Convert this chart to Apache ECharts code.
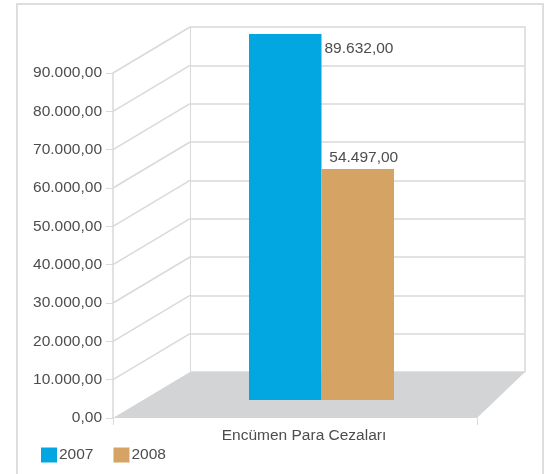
<!DOCTYPE html>
<html>
<head>
<meta charset="utf-8">
<script src="https://cdn.jsdelivr.net/npm/echarts@6/dist/echarts.min.js"></script>
<style>
html,body{margin:0;padding:0;background:#fff;}
#chart{width:548px;height:474px;}
</style>
</head>
<body>
<div id="chart"></div>
<script>
// ---- data ----
const categories = ['Encümen Para Cezaları'];
const seriesNames = ['2007', '2008'];
const values2007 = [89632];
const values2008 = [54497];
const yTicks = [0, 10000, 20000, 30000, 40000, 50000, 60000, 70000, 80000, 90000];

// ---- styles / layout ----
const FONT = 'Liberation Sans';
const TEXT = '#4d4d4d';
const LINE = '#d9d9d9';
const COLORS = ['#02a7e1', '#d5a465'];
const gridBack  = {left: 190, top: 27, width: 335, height: 345};
const gridFront = {left: 113, top: 73, width: 364, height: 345};
const gridBars  = {left: 249, top: 32.6, width: 145, height: 345.8};
const BAR_DEPTH = 21.6;

function fmt(v) {
  const neg = v < 0; v = Math.abs(v);
  const parts = v.toFixed(2).split('.');
  const int = parts[0].replace(/\B(?=(\d{3})+(?!\d))/g, '.');
  return (neg ? '-' : '') + int + ',' + parts[1];
}

const chart = echarts.init(document.getElementById('chart'), null, {renderer: 'canvas'});
const yMax = yTicks[yTicks.length - 1];
const step = yTicks[1] - yTicks[0];

function barRender(idx) {
  return function (params, api) {
    const cs = params.coordSys;
    const w = api.size([1, 0])[0] / 2;
    const top = api.coord([api.value(0), api.value(1)]);
    const x0 = cs.x + idx * w;
    const bottom = cs.y + cs.height + BAR_DEPTH;
    const label = fmt(api.value(1));
    const text = idx === 0
      ? {x: x0 + w + 3, y: top[1] + 15, align: 'left'}
      : {x: x0 + w / 2 + 6, y: top[1] - 11, align: 'center'};
    return {
      type: 'group',
      children: [
        {type: 'rect', shape: {x: x0, y: top[1], width: w, height: bottom - top[1]},
         style: {fill: COLORS[idx]}},
        {type: 'text', z2: 10, style: {x: text.x, y: text.y, text: label, align: text.align,
          verticalAlign: 'middle', fill: TEXT, font: '15.5px "' + FONT + '"'}}
      ]
    };
  };
}

const option = {
  animation: false,
  textStyle: {fontFamily: FONT},
  grid: [
    Object.assign({containLabel: false}, gridBack),
    Object.assign({containLabel: false}, gridFront),
    Object.assign({containLabel: false}, gridBars)
  ],
  xAxis: [
    {type: 'category', gridIndex: 0, data: categories, show: false},
    {type: 'category', gridIndex: 1, data: categories,
     axisLine: {show: false},
     axisTick: {show: true, length: 7, lineStyle: {color: LINE}},
     axisLabel: {color: TEXT, fontSize: 15.5, fontFamily: FONT, margin: 10, padding: [0, 0, 0, 18]}},
    {type: 'category', gridIndex: 2, data: categories, show: false}
  ],
  yAxis: [
    {type: 'value', gridIndex: 0, min: 0, max: yMax, interval: step,
     axisLine: {show: true, lineStyle: {color: LINE}}, axisTick: {show: false}, axisLabel: {show: false},
     splitLine: {show: true, lineStyle: {color: LINE, width: 1.5}}},
    {type: 'value', gridIndex: 0, position: 'right', min: 0, max: yMax, interval: step,
     axisLine: {show: true, lineStyle: {color: LINE, width: 1.5}}, axisTick: {show: false},
     axisLabel: {show: false}, splitLine: {show: false}},
    {type: 'value', gridIndex: 1, min: 0, max: yMax, interval: step,
     axisLine: {show: true, lineStyle: {color: LINE, width: 1.5}},
     axisTick: {show: true, length: 7, lineStyle: {color: LINE}},
     axisLabel: {color: TEXT, fontSize: 15.5, fontFamily: FONT, margin: 11, formatter: fmt},
     splitLine: {show: false}},
    {type: 'value', gridIndex: 2, min: 0, max: yMax, show: false}
  ],
  legend: {
    data: seriesNames, left: 41, top: 447, padding: 0, itemGap: 20,
    itemWidth: 16, itemHeight: 15, icon: 'rect',
    textStyle: {color: TEXT, fontSize: 15.5, fontFamily: FONT, padding: [0, 0, 0, -3]}
  },
  series: [
    {name: seriesNames[0], type: 'custom', xAxisIndex: 2, yAxisIndex: 3, z: 5,
     itemStyle: {color: COLORS[0]}, renderItem: barRender(0),
     data: categories.map((c, i) => [i, values2007[i]])},
    {name: seriesNames[1], type: 'custom', xAxisIndex: 2, yAxisIndex: 3, z: 5,
     itemStyle: {color: COLORS[1]}, renderItem: barRender(1),
     data: categories.map((c, i) => [i, values2008[i]])}
  ]
};
chart.setOption(option);

// decorations: outer frame, floor, diagonal lines connecting front axis to back wall
const yB = v => chart.convertToPixel({yAxisIndex: 0}, v);
const yF = v => chart.convertToPixel({yAxisIndex: 2}, v);
const graphics = [];
graphics.push({type: 'rect', z: -10, shape: {x: 17, y: 4, width: 526, height: 480},
  style: {fill: 'none', stroke: '#dedede', lineWidth: 2}});
graphics.push({type: 'polygon', z: 1, shape: {points: [
  [gridFront.left, yF(0)], [gridBack.left, yB(0)],
  [gridBack.left + gridBack.width, yB(0)], [gridFront.left + gridFront.width, yF(0)]
]}, style: {fill: '#d3d4d5'}});
yTicks.forEach(v => {
  if (v === 0) return;
  graphics.push({type: 'line', z: 0, shape: {x1: gridFront.left, y1: yF(v), x2: gridBack.left, y2: yB(v)},
    style: {stroke: LINE, lineWidth: 1.5}});
});
chart.setOption({graphic: graphics});
</script>
</body>
</html>
